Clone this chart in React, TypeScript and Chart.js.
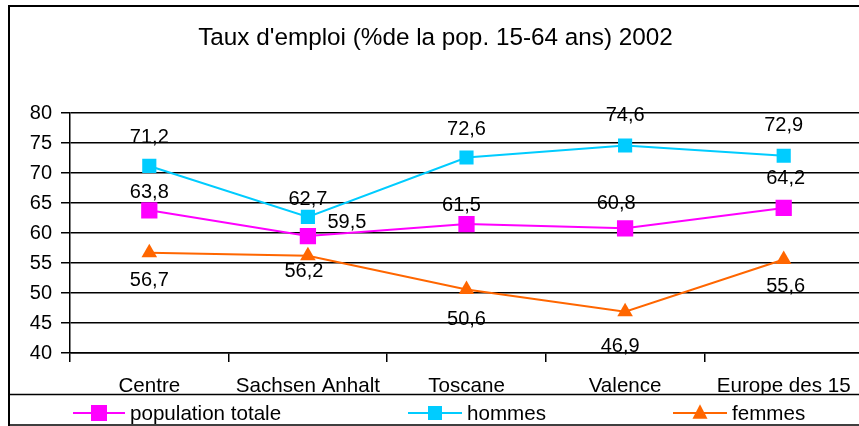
import React, { useEffect, useRef } from 'react';
import { Chart, registerables } from 'chart.js';

Chart.register(...registerables);

const FONT = "'Liberation Sans', Arial, Helvetica, sans-serif";

const chartTitle = "Taux d'emploi (%de la pop. 15-64 ans) 2002";
const categories = ['Centre', 'Sachsen Anhalt', 'Toscane', 'Valence', 'Europe des 15'];
const seriesNames = ['population totale', 'hommes', 'femmes'];
const populationTotale = [63.8, 59.5, 61.5, 60.8, 64.2];
const hommes = [71.2, 62.7, 72.6, 74.6, 72.9];
const femmes = [56.7, 56.2, 50.6, 46.9, 55.6];
const yMin = 40;
const yMax = 80;
const yStep = 5;

const COLORS = ['#FF00FF', '#00CCFF', '#FF6600'];

const fmt = (v: number) => v.toFixed(1).replace('.', ',');

function drawMarker(ctx: CanvasRenderingContext2D, style: string, x: number, y: number, size: number, color: string) {
  ctx.fillStyle = color;
  ctx.beginPath();
  if (style === 'triangle') {
    const h = size * 0.9;
    ctx.moveTo(x, y - h / 2 - 2);
    ctx.lineTo(x + size / 2, y + h / 2 - 1);
    ctx.lineTo(x - size / 2, y + h / 2 - 1);
    ctx.closePath();
  } else {
    ctx.rect(x - size / 2, y - size / 2, size, size);
  }
  ctx.fill();
}

const valueLabels = {
  id: 'valueLabels',
  afterDatasetsDraw(chart: any, _args: any, opts: any) {
    const ctx = chart.ctx as CanvasRenderingContext2D;
    ctx.save();
    ctx.font = `${opts.size}px ${FONT}`;
    ctx.fillStyle = '#000';
    ctx.textAlign = 'center';
    ctx.textBaseline = 'middle';
    chart.data.datasets.forEach((ds: any, i: number) => {
      const meta = chart.getDatasetMeta(i);
      meta.data.forEach((pt: any, j: number) => {
        const [dx, dy] = opts.offsets[i][j];
        ctx.fillText(fmt(ds.data[j]), pt.x + dx, pt.y + dy);
      });
    });
    ctx.restore();
  },
};

const frameLegend = {
  id: 'frameLegend',
  afterDraw(chart: any, _args: any, opts: any) {
    const ctx = chart.ctx as CanvasRenderingContext2D;
    const W = chart.width;
    ctx.save();
    ctx.strokeStyle = '#000';
    ctx.lineWidth = 2;
    ctx.beginPath();
    ctx.moveTo(9, 430);
    ctx.lineTo(9, 6);
    ctx.lineTo(W, 6);
    ctx.stroke();
    ctx.lineWidth = 1.5;
    ctx.beginPath();
    ctx.moveTo(9, opts.sepY);
    ctx.lineTo(W, opts.sepY);
    ctx.moveTo(9, 425);
    ctx.lineTo(W, 425);
    ctx.stroke();

    ctx.font = `${opts.size}px ${FONT}`;
    ctx.textAlign = 'left';
    ctx.textBaseline = 'middle';
    opts.items.forEach((it: any, i: number) => {
      const ds = chart.data.datasets[i];
      const y = opts.y;
      ctx.strokeStyle = ds.borderColor;
      ctx.lineWidth = 2;
      ctx.beginPath();
      ctx.moveTo(it.x1, y);
      ctx.lineTo(it.x2, y);
      ctx.stroke();
      drawMarker(ctx, ds.pointStyle, (it.x1 + it.x2) / 2, y, it.m, ds.borderColor);
      ctx.fillStyle = '#000';
      ctx.fillText(ds.label, it.x2 + 5, y + 1);
    });
    ctx.restore();
  },
};

export default function App() {
  const ref = useRef<HTMLCanvasElement | null>(null);

  useEffect(() => {
    if (!ref.current) return;
    Chart.defaults.font.family = FONT;
    const chart = new Chart(ref.current, {
      type: 'line',
      data: {
        labels: categories,
        datasets: [
          {
            label: seriesNames[0],
            data: populationTotale,
            borderColor: COLORS[0],
            backgroundColor: COLORS[0],
            pointBackgroundColor: COLORS[0],
            pointBorderColor: COLORS[0],
            borderWidth: 2,
            pointStyle: 'rect',
            pointRadius: 11.5,
            pointBorderWidth: 0,
            tension: 0,
          },
          {
            label: seriesNames[1],
            data: hommes,
            borderColor: COLORS[1],
            backgroundColor: COLORS[1],
            pointBackgroundColor: COLORS[1],
            pointBorderColor: COLORS[1],
            borderWidth: 2,
            pointStyle: 'rect',
            pointRadius: 10,
            pointBorderWidth: 0,
            tension: 0,
          },
          {
            label: seriesNames[2],
            data: femmes,
            borderColor: COLORS[2],
            backgroundColor: COLORS[2],
            pointBackgroundColor: COLORS[2],
            pointBorderColor: COLORS[2],
            borderWidth: 2,
            pointStyle: 'triangle',
            pointRadius: 9,
            pointBorderWidth: 0,
            tension: 0,
          },
        ],
      },
      options: {
        responsive: false,
        animation: false,
        devicePixelRatio: 1,
        layout: { autoPadding: false, padding: { left: 8, right: 1, top: 0, bottom: 32 } },
        plugins: {
          legend: { display: false },
          tooltip: { enabled: false },
          title: {
            display: true,
            text: chartTitle,
            color: '#000',
            font: { size: 24.3, weight: 'normal', family: FONT, lineHeight: 1.2 },
            padding: { top: 24, bottom: 60 },
          },
          valueLabels: {
            size: 20,
            offsets: [
              [[0, -18], [39, -14], [-5, -19], [-9, -25], [2, -29]],
              [[0, -28], [0, -17], [0, -28], [0, -30], [0, -30]],
              [[0, 28], [-4, 16], [0, 30], [-5, 35], [2, 27]],
            ],
          },
          frameLegend: {
            size: 20.6,
            y: 413,
            sepY: 394.5,
            items: [
              { x1: 73, x2: 125, m: 16 },
              { x1: 408, x2: 462, m: 14 },
              { x1: 673, x2: 727, m: 15 },
            ],
          },
        } as any,
        scales: {
          x: {
            offset: true,
            afterFit: (s: any) => { s.height = 41; s.paddingLeft = 0; s.paddingRight = 0; },
            grid: {
              display: true,
              offset: true,
              drawOnChartArea: false,
              drawTicks: true,
              tickLength: 9,
              color: '#000',
              lineWidth: 1.5,
            },
            border: { display: true, color: '#000', width: 1.5 },
            ticks: { color: '#000', font: { size: 20.6, family: FONT, lineHeight: 1.2 }, padding: 12, maxRotation: 0, autoSkip: false },
          },
          y: {
            min: yMin,
            max: yMax,
            afterFit: (s: any) => { s.width = 62; },
            grid: {
              display: true,
              color: '#000',
              lineWidth: 1.5,
              tickLength: 9,
              drawTicks: true,
            },
            border: { display: true, color: '#000', width: 1.5 },
            ticks: { stepSize: yStep, color: '#000', font: { size: 20, family: FONT }, padding: 9 },
          },
        },
      },
      plugins: [valueLabels, frameLegend],
    });
    return () => chart.destroy();
  }, []);

  return (
    <div style={{ position: 'absolute', left: 0, top: 0, width: 859, height: 426, overflow: 'hidden', background: '#fff' }}>
      <canvas ref={ref} width={864} height={426} style={{ display: 'block' }} />
    </div>
  );
}
